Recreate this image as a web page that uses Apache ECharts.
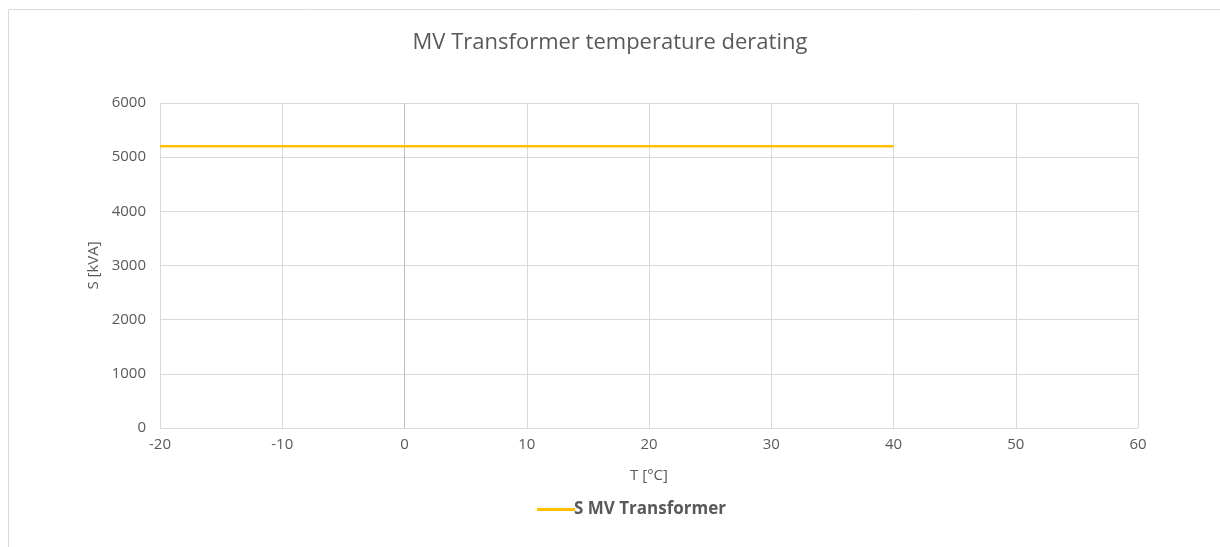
<!DOCTYPE html>
<html>
<head>
<meta charset="utf-8">
<script src="https://cdn.jsdelivr.net/npm/echarts@6/dist/echarts.min.js"></script>
<style>
  html, body { margin: 0; padding: 0; background: #fff; }
  #chart { width: 1220px; height: 547px; }
</style>
</head>
<body>
<div id="chart"></div>
<script>
// Temperature points (°C) and apparent power rating (kVA)
const temperatures = [-20, -10, 0, 10, 20, 30, 40];
const ratingKVA = [5200, 5200, 5200, 5200, 5200, 5200, 5200];
const seriesName = 'S MV Transformer';
const titleText = 'MV Transformer temperature derating';
const xAxisName = 'T [°C]';
const yAxisName = 'S [kVA]';

const FONT = '"Open Sans", "Liberation Sans", sans-serif';
const grey = '#595959';
const gridGrey = '#d9d9d9';

// Vertical grid lines: the one at 0 °C is a little darker
const xSplitColors = [gridGrey, gridGrey, '#bfbfbf', gridGrey, gridGrey, gridGrey, gridGrey, gridGrey, gridGrey];

const chart = echarts.init(document.getElementById('chart'), null, { renderer: 'canvas' });
chart.setOption({
  animation: false,
  backgroundColor: '#ffffff',
  graphic: [{
    type: 'rect',
    shape: { x: 8.5, y: 9.5, width: 1400, height: 700 },
    style: { fill: 'none', stroke: gridGrey, lineWidth: 1 },
    silent: true
  }],
  title: {
    text: titleText,
    left: 'center',
    top: 27,
    textStyle: { fontFamily: FONT, fontSize: 22, fontWeight: 'normal', color: grey }
  },
  grid: { left: 160, right: 82, top: 103, bottom: 119, containLabel: false },
  legend: {
    left: 532,
    top: 496,
    itemWidth: 38,
    itemHeight: 3,
    itemGap: 10,
    icon: 'rect',
    data: [seriesName],
    textStyle: { fontFamily: FONT, fontSize: 17, fontWeight: 'bold', color: grey, padding: [0, 0, 0, -6] }
  },
  xAxis: {
    type: 'value',
    min: -20,
    max: 60,
    interval: 10,
    name: xAxisName,
    nameLocation: 'middle',
    nameGap: 40,
    nameTextStyle: { fontFamily: FONT, fontSize: 15, color: grey },
    axisLine: { show: false },
    axisTick: { show: false },
    axisLabel: { fontFamily: FONT, fontSize: 15, color: grey, margin: 9 },
    splitLine: { show: true, lineStyle: { color: xSplitColors, width: 1 } }
  },
  yAxis: {
    type: 'value',
    min: 0,
    max: 6000,
    interval: 1000,
    name: yAxisName,
    nameLocation: 'middle',
    nameGap: 58,
    nameRotate: 90,
    nameTextStyle: { fontFamily: FONT, fontSize: 15, color: grey },
    axisLine: { show: false },
    axisTick: { show: false },
    axisLabel: { fontFamily: FONT, fontSize: 15, color: grey, margin: 14, formatter: v => String(v) },
    splitLine: { show: true, lineStyle: { color: gridGrey, width: 1 } }
  },
  series: [{
    name: seriesName,
    type: 'line',
    data: temperatures.map((t, i) => [t, ratingKVA[i]]),
    symbol: 'none',
    lineStyle: { color: '#FFC000', width: 2.5 },
    itemStyle: { color: '#FFC000' }
  }]
});
</script>
</body>
</html>
